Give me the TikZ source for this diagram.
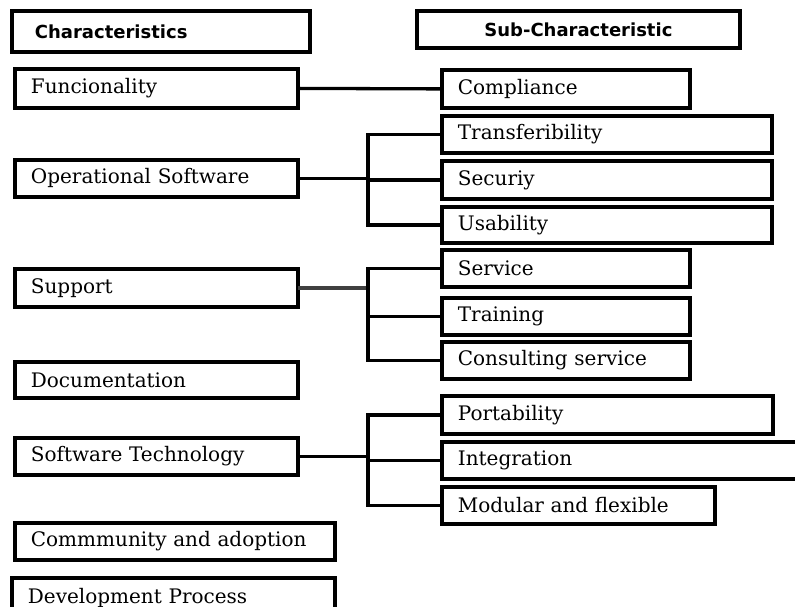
\documentclass[tikz,border=0pt]{standalone}
\usepackage{fontspec}
\newfontfamily\serifbox{DejaVu Serif}
\newfontfamily\headfont{DejaVu Sans}
\tikzset{
  cbox/.style={draw, line width=3.8pt, inner xsep=16pt, inner ysep=0pt, anchor=north west, align=left, font=\serifbox\fontsize{20}{22}\selectfont},
  hbox/.style={draw, line width=3.8pt, inner xsep=8pt, inner ysep=0pt, anchor=north west, font=\headfont\bfseries\fontsize{18}{21}\selectfont},
  conn/.style={line width=3.3pt, line cap=rect}
}
\newcommand\bx[6]{\node[cbox, text width=#4pt, minimum height=#5pt] (#1) at (#2,#3) {#6};}
\begin{document}
\begin{tikzpicture}[x=1pt,y=-1pt]
\useasboundingbox (0,0) rectangle (795,607);
\clip (0,0) rectangle (795,607);
\fill[white] (0,0) rectangle (795,607);
% headers
\node[hbox, inner xsep=23pt, text width=252pt, align=left, minimum height=41pt] (h1) at (10,9) {Characteristics};
\node[hbox, text width=307pt, align=center, minimum height=37pt] (h2) at (415,9) {Sub-Characteristic};
% characteristics
\bx{fun}{13}{67}{251}{39}{Funcionality}
\bx{ops}{13}{158}{251}{37}{Operational Software}
\bx{sup}{13}{267}{251}{38}{Support}
\bx{doc}{13}{360}{251}{36}{Documentation}
\bx{tech}{13}{436}{251}{37}{Software Technology}
\bx{comm}{13}{521}{288}{37}{Commmunity and adoption}
\bx{dev}{10}{576}{291}{44}{\raisebox{8pt}{Development Process}}
% sub-characteristics
\bx{comp}{440}{68}{216}{38}{Compliance}
\bx{trans}{440}{114}{298}{37}{Transferibility}
\bx{sec}{440}{159}{298}{38}{Securiy}
\bx{usa}{440}{205}{298}{36}{Usability}
\bx{serv}{440}{248}{216}{37}{Service}
\bx{train}{440}{296}{216}{37}{Training}
\bx{cons}{440}{340}{216}{37}{Consulting service}
\bx{port}{440}{394}{299}{38}{Portability}
\bx{integ}{440}{440}{368}{37}{Integration}
\bx{mod}{440}{485}{241}{37}{Modular and flexible}
% buses
\coordinate (b1) at (368,0);
\draw[conn] (fun.east) -- (comp.west);
\draw[conn] (ops.east) -- (ops.east -| b1);
\draw[conn] (trans.west) -| (b1 |- trans.west) |- (usa.west);
\draw[conn] (b1 |- sec.west) -- (sec.west);
\draw[conn, black!75] (sup.east) -- (sup.east -| b1);
\draw[conn] (serv.west) -| (b1 |- serv.west) |- (cons.west);
\draw[conn] (b1 |- train.west) -- (train.west);
\draw[conn] (tech.east) -- (tech.east -| b1);
\draw[conn] (port.west) -| (b1 |- port.west) |- (mod.west);
\draw[conn] (b1 |- integ.west) -- (integ.west);
\end{tikzpicture}
\end{document}
